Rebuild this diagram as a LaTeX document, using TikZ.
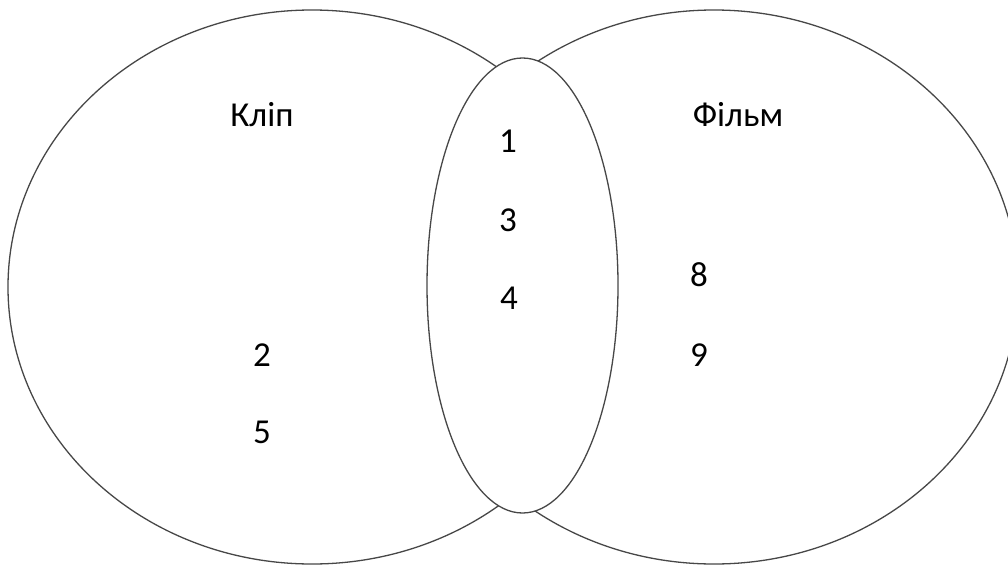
\documentclass[tikz,border=0pt]{standalone}
\usepackage{fontspec}
\setmainfont{Carlito}
\begin{document}
\begin{tikzpicture}[x=1pt,y=-1pt,
  venn/.style={draw=black!72, line width=1.3pt, fill=white},
  lbl/.style={font=\fontsize{35}{40}\selectfont, inner sep=0pt, anchor=base, text=black}]
\useasboundingbox (0,0) rectangle (1008,567);
\clip (0,0) rectangle (1008,567);
\draw[venn] (714,287) ellipse [x radius=304, y radius=277];
\draw[venn] (312,287) ellipse [x radius=304, y radius=277];
\draw[venn] (522.5,285.5) ellipse [x radius=95.5, y radius=227.5];
\node[lbl] (klip) at (262,127) {Кліп};
\node[lbl] (film) at (738,127) {Фільм};
\node[lbl] (n1) at (508,152) {1};
\node[lbl] (n3) at (508,231) {3};
\node[lbl] (n4) at (509,309) {4};
\node[lbl] (n2) at (262,366) {2};
\node[lbl] (n5) at (262,443) {5};
\node[lbl] (n8) at (699,286) {8};
\node[lbl] (n9) at (699,366) {9};
\end{tikzpicture}
\end{document}
